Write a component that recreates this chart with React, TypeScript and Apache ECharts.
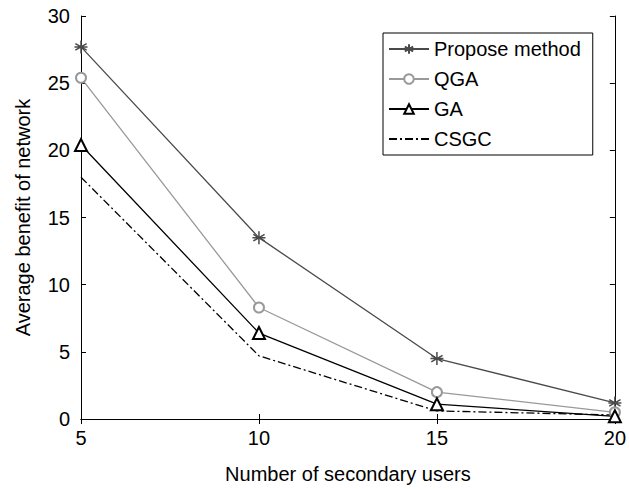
import React, { useEffect, useRef } from "react";
import * as echarts from "echarts";

const users = [5, 10, 15, 20];
const proposeMethod = [27.7, 13.5, 4.5, 1.2];
const qga = [25.4, 8.3, 2.0, 0.5];
const ga = [20.4, 6.4, 1.1, 0.2];
const csgc = [18.0, 4.7, 0.6, 0.3];
const yTicks = [0, 5, 10, 15, 20, 25, 30];
const seriesNames = ["Propose method", "QGA", "GA", "CSGC"];

const asterisk =
  "path://M0,-5L0,5M-4.33,-2.5L4.33,2.5M-4.33,2.5L4.33,-2.5M-5,0L5,0";

const pairs = (vals: number[]) => users.map((u, i) => [u, vals[i]]);

export default function App() {
  const ref = useRef<HTMLDivElement>(null);
  useEffect(() => {
    if (!ref.current) return;
    const chart = echarts.init(ref.current, undefined, { renderer: "svg" });
    const font = "Liberation Sans, Arial, sans-serif";
    const fs = 20;
    const baseAxis = {
      axisLine: { show: true, lineStyle: { color: "#000", width: 1 } },
      axisTick: { show: true, inside: true, length: 5, lineStyle: { color: "#000" } },
      splitLine: { show: false },
    };
    chart.setOption({
      animation: false,
      backgroundColor: "#fff",
      textStyle: { fontFamily: font },
      grid: { left: 81, right: 13, top: 16, bottom: 70 },
      legend: {
        left: 383,
        top: 33,
        orient: "vertical",
        itemWidth: 40,
        itemHeight: 12,
        itemGap: 10,
        padding: [6, 12, 6, 5],
        borderColor: "#000",
        borderWidth: 1,
        backgroundColor: "#fff",
        textStyle: { fontSize: fs, color: "#000", fontFamily: font },
        data: [
          seriesNames[0],
          seriesNames[1],
          seriesNames[2],
          { name: seriesNames[3], itemStyle: { opacity: 0 } },
        ],
      },
      xAxis: [
        {
          ...baseAxis,
          type: "value",
          min: 5,
          max: 20,
          interval: 5,
          name: "Number of secondary users",
          nameLocation: "middle",
          nameGap: 45,
          nameTextStyle: { fontSize: fs, color: "#000", fontFamily: font },
          axisLabel: { fontSize: fs, color: "#000", margin: 9, fontFamily: font },
        },
        {
          ...baseAxis,
          type: "value",
          position: "top",
          min: 5,
          max: 20,
          interval: 5,
          axisLabel: { show: false },
        },
      ],
      yAxis: [
        {
          ...baseAxis,
          type: "value",
          min: yTicks[0],
          max: yTicks[yTicks.length - 1],
          interval: 5,
          name: "Average benefit of network",
          nameLocation: "middle",
          nameGap: 48,
          nameTextStyle: { fontSize: fs, color: "#000", fontFamily: font },
          axisLabel: { fontSize: fs, color: "#000", margin: 11, fontFamily: font },
        },
        {
          ...baseAxis,
          type: "value",
          position: "right",
          min: yTicks[0],
          max: yTicks[yTicks.length - 1],
          interval: 5,
          axisLabel: { show: false },
        },
      ],
      series: [
        {
          name: seriesNames[0],
          type: "line",
          data: pairs(proposeMethod),
          symbol: asterisk,
          symbolSize: 13,
          lineStyle: { color: "#4a4a4a", width: 1.3 },
          itemStyle: { color: "#4a4a4a", borderColor: "#4a4a4a", borderWidth: 1.5 },
        },
        {
          name: seriesNames[1],
          type: "line",
          data: pairs(qga),
          symbol: "emptyCircle",
          symbolSize: 10,
          lineStyle: { color: "#999", width: 1.3 },
          itemStyle: { color: "#999", borderColor: "#999", borderWidth: 1.3 },
        },
        {
          name: seriesNames[2],
          type: "line",
          data: pairs(ga),
          symbol: "emptyTriangle",
          symbolSize: 12,
          lineStyle: { color: "#000", width: 1.3 },
          itemStyle: { color: "#000", borderColor: "#000", borderWidth: 1.3 },
        },
        {
          name: seriesNames[3],
          type: "line",
          data: pairs(csgc),
          symbol: "none",
          lineStyle: { color: "#000", width: 1.3, type: [8, 3, 2, 3] },
          itemStyle: { color: "#000" },
        },
      ],
    });
    return () => chart.dispose();
  }, []);
  return (
    <div
      ref={ref}
      style={{ position: "fixed", left: 0, top: 0, width: 629, height: 489 }}
    />
  );
}
